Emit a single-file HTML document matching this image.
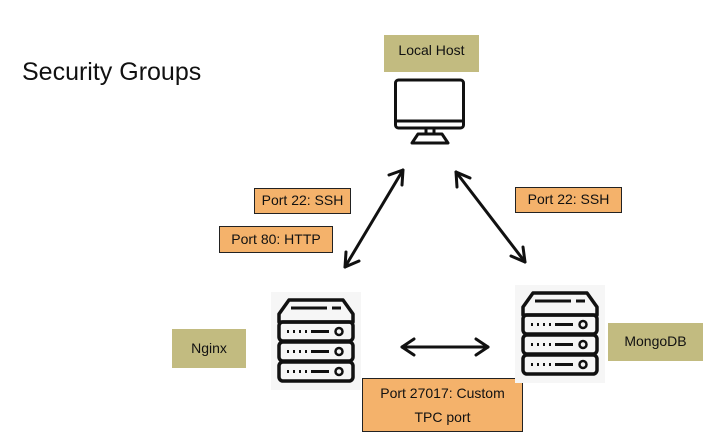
<!DOCTYPE html>
<html><head><meta charset="utf-8"><style>
body{margin:0;width:728px;height:442px;background:#fff;position:relative;overflow:hidden;font-family:"Liberation Sans",sans-serif;}
.b{position:absolute;box-sizing:border-box;font-size:14px;color:#111;text-align:center;}
.o{background:#f4b26b;border:1.5px solid #222;}
.g{background:#c2bb80;}
</style></head><body>
<div style="position:absolute;left:22px;top:58px;font-size:25px;color:#111;">Security Groups</div>
<div class="b g" style="left:384px;top:35px;width:95px;height:37px;line-height:30px;">Local Host</div>
<div class="b o" style="left:254px;top:188px;width:97px;height:26px;line-height:23px;">Port 22: SSH</div>
<div class="b o" style="left:219px;top:226px;width:114px;height:27px;line-height:24px;">Port 80: HTTP</div>
<div class="b o" style="left:515px;top:187px;width:107px;height:26px;line-height:23px;">Port 22: SSH</div>
<div class="b g" style="left:172px;top:329px;width:74px;height:39px;line-height:39px;">Nginx</div>
<div class="b g" style="left:608px;top:323px;width:95px;height:38px;line-height:36px;">MongoDB</div>
<div class="b o" style="left:362px;top:378px;width:161px;height:54px;line-height:24px;padding-top:2px;">Port 27017: Custom<br>TPC port</div>
<svg width="728" height="442" style="position:absolute;left:0;top:0" fill="none" stroke="#111">
<defs>
<g id="srv">
<rect x="0" y="0" width="90" height="98" fill="#f6f6f6" stroke="none"/>
<path d="M8 30 L8 22 L18 8 L72 8 L82 22 L82 30 Z" stroke-width="3.5" stroke-linejoin="round"/>
<line x1="20" y1="16" x2="56" y2="16" stroke-width="3"/><line x1="61" y1="16" x2="70" y2="16" stroke-width="3"/>
<g id="u"><rect x="8" y="30" width="74" height="19" rx="4" stroke-width="3.5"/>
<g stroke-width="3"><line x1="16" y1="39.5" x2="18" y2="39.5"/><line x1="22" y1="39.5" x2="24" y2="39.5"/><line x1="28" y1="39.5" x2="30" y2="39.5"/><line x1="34" y1="39.5" x2="36" y2="39.5"/><line x1="40" y1="39.5" x2="58" y2="39.5"/></g>
<circle cx="68" cy="39.5" r="3.5" stroke-width="2.5"/></g>
<use href="#u" y="20"/><use href="#u" y="40"/>
</g>
</defs>
<use href="#srv" x="271" y="292"/>
<use href="#srv" x="515" y="285"/>
<g stroke-width="3" stroke-linejoin="round">
<rect x="395" y="80" width="69" height="61" rx="3" fill="#fff" stroke="#fff"/>
<rect x="395.5" y="80" width="68" height="48" rx="3"/>
<line x1="396" y1="121" x2="463" y2="121"/>
<path d="M426 128 V134 M434 128 V134"/>
<path d="M418 134 H442 L448 143 H412 Z"/>
</g>
<g stroke-width="3" stroke-linecap="round" stroke-linejoin="round">
<line x1="403" y1="170" x2="345" y2="267"/>
<path d="M389 175 L403 170 L402 185"/><path d="M346 252 L345 267 L359 261"/>
<line x1="456" y1="172" x2="525" y2="262"/>
<path d="M457 187 L456 172 L470 178"/><path d="M511 256 L525 262 L523 247"/>
<line x1="402" y1="347" x2="488" y2="347"/>
<path d="M414 339 L402 347 L414 355"/><path d="M476 339 L488 347 L476 355"/>
</g>
</svg>
</body></html>
